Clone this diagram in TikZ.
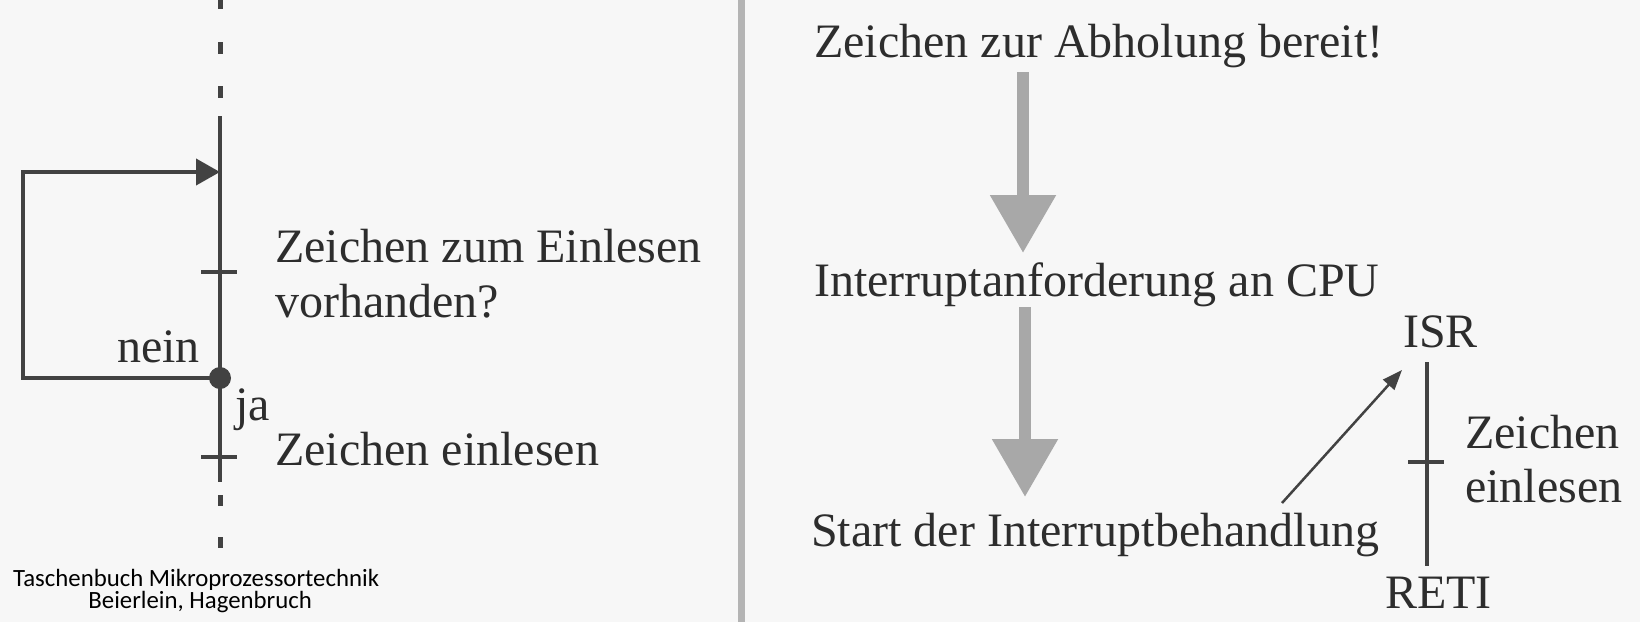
\documentclass[tikz,border=0pt]{standalone}
\usepackage{fontspec}
\setmainfont{Liberation Serif}
\newfontfamily\footfont{Carlito}
\usepackage{xcolor}
\usetikzlibrary{arrows.meta,positioning}

\definecolor{paper}{RGB}{247,247,247}
\definecolor{ink}{RGB}{45,45,45}
\definecolor{linegray}{RGB}{66,66,66}
\definecolor{arrowgray}{RGB}{168,168,168}
\definecolor{sepgray}{RGB}{180,180,180}

\tikzset{
    lbl/.style={inner sep=0pt, anchor=base west, text=ink, font=\fontsize{48}{55}\selectfont},
    foot/.style={inner sep=0pt, text=black, font=\footfont\fontsize{24.8}{28}\selectfont},
    flowline/.style={line width=4pt, draw=linegray},
    axisdash/.style={line width=5pt, draw=linegray},
    tickmark/.style={line width=4pt, draw=linegray},
    branchdot/.style={circle, fill=linegray, inner sep=0pt, minimum size=22pt},
    bigarrow/.style={line width=12pt, draw=arrowgray, -{Triangle[length=58pt,width=63pt]}},
    callarrow/.style={line width=2.5pt, draw=linegray, -{Triangle[length=20pt,width=15pt]}},
}

\begin{document}
\begin{tikzpicture}[x=1pt,y=-1pt]
                \fill[paper] (0,0) rectangle (1640,622);
                \useasboundingbox (0,0) rectangle (1640,622);

                \draw[
                    line width=7pt,
                    draw=sepgray
                ] (741,0) to (741,622);

                % linke Seite
                \draw[flowline] (220,116) to (220,482);
                \foreach \ya/\yb in {0/9, 42/54, 86/98, 495/506, 537/548}
                    \draw[axisdash] (220,\ya) to (220,\yb);
                \foreach \yt in {272, 457}
                    \draw[tickmark] (201,\yt) to (237,\yt);

                \node[branchdot] (branch) at (220,378) {};
                \coordinate (loopbl) at (23,378);
                \coordinate (entry) at (220,172);

                \draw[
                    flowline,
                    line join=miter,
                    -{Triangle[length=24pt,width=26pt]}
                ] (branch.center) to (loopbl) |- (entry);

                \node[lbl] (frage) at (275,262) {Zeichen zum Einlesen};
                \node[lbl] (frage2) at (275,317) {vorhanden?};
                \node[lbl, anchor=base east] (nein) at (200,362) {nein};
                \node[lbl] (ja) at (235,420) {ja};
                \node[lbl] (lesen) at (275,465) {Zeichen einlesen};

                \node[foot, anchor=base west] (buch) at (13,586) {Taschenbuch Mikroprozessortechnik};
                \node[foot, anchor=base] (autoren) at ([xshift=4pt,yshift=-22pt]buch.base) {Beierlein, Hagenbruch};

                % rechte Seite
                \node[lbl] (bereit) at (814,57) {Zeichen zur Abholung bereit!};
                \node[lbl] (anforderung) at (814,296) {Interruptanforderung an CPU};
                \node[lbl] (start) at (811,546) {Start der Interruptbehandlung};

                \coordinate (pfeil1a) at (1023,72);
                \coordinate (pfeil1b) at (1023,253);
                \coordinate (pfeil2a) at (1025,307);
                \coordinate (pfeil2b) at (1025,497);
                \draw[bigarrow] (pfeil1a) to (pfeil1b);
                \draw[bigarrow] (pfeil2a) to (pfeil2b);

                \node[lbl] (isr) at (1403,347) {ISR};
                \node[lbl] (isrtext) at (1465,448) {Zeichen};
                \node[lbl] (isrtext2) at (1465,502) {einlesen};
                \node[lbl] (reti) at (1385,608) {RETI};

                \coordinate (isrtop) at (1427,362);
                \coordinate (isrbot) at (1427,566);
                \draw[flowline] (isrtop) to (isrbot);
                \draw[tickmark] (1408,462) to (1444,462);

                \coordinate (aufruf) at (1282,503);
                \coordinate (einsprung) at (1402,370);
                \draw[callarrow] (aufruf) to (einsprung);
\end{tikzpicture}
\end{document}
